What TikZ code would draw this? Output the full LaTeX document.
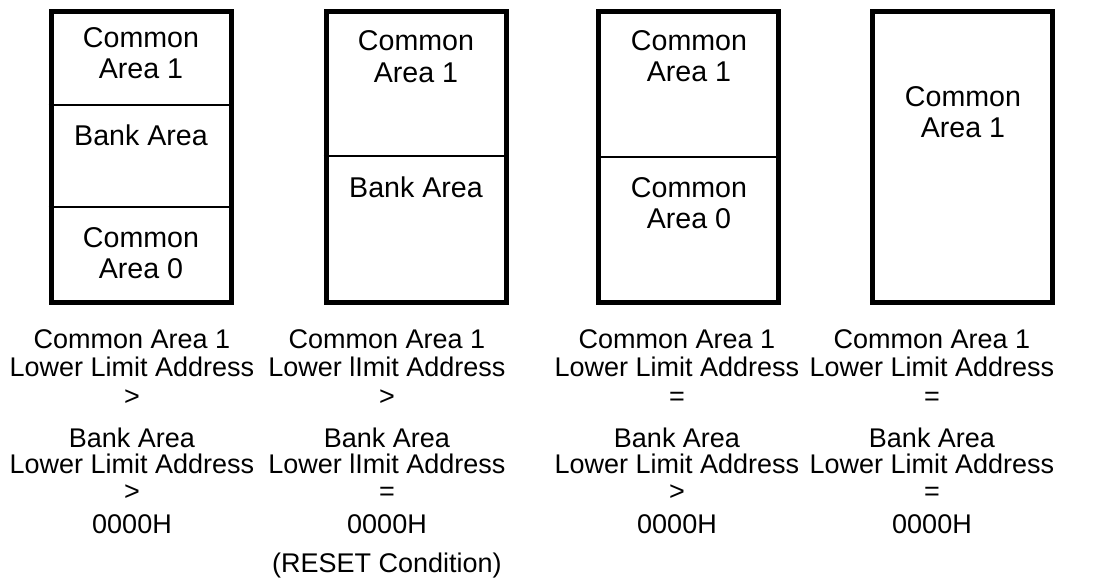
\documentclass[tikz,border=0pt]{standalone}
\usepackage{fontspec}
\setmainfont{Liberation Sans}
\tikzset{
  membox/.style={draw,line width=2.5pt,minimum width=90pt,minimum height=145.75pt,inner sep=0pt},
  divider/.style={line width=0.6pt},
  lbl/.style={anchor=base,inner sep=0pt,font=\fontsize{13.5}{15.5}\selectfont},
  arealbl/.style={lbl,font=\fontsize{14.3}{16}\selectfont},
}
\begin{document}
\begin{tikzpicture}[x=0.5pt,y=-0.5pt]
  \useasboundingbox (0,0) rectangle (1104,579);

  % memory maps
  \node[membox] (map1) at (141,156.75) {};
  \node[membox] (map2) at (416,156.75) {};
  \node[membox] (map3) at (688.5,156.75) {};
  \node[membox] (map4) at (962.5,156.75) {};

  \draw[divider] (map1.west |- 0,105) -- (map1.east |- 0,105);
  \draw[divider] (map1.west |- 0,207) -- (map1.east |- 0,207);
  \draw[divider] (map2.west |- 0,156) -- (map2.east |- 0,156);
  \draw[divider] (map3.west |- 0,157) -- (map3.east |- 0,157);

  % area names
  \node[arealbl] (m1a) at (141,47) {Common};
  \node[arealbl] (m1b) at (141,78) {Area 1};
  \node[arealbl] (m1c) at (141,145) {Bank Area};
  \node[arealbl] (m1d) at (141,247) {Common};
  \node[arealbl] (m1e) at (141,278) {Area 0};

  \node[arealbl] (m2a) at (416,50) {Common};
  \node[arealbl] (m2b) at (416,82) {Area 1};
  \node[arealbl] (m2c) at (416,197) {Bank Area};

  \node[arealbl] (m3a) at (689,50) {Common};
  \node[arealbl] (m3b) at (689,81) {Area 1};
  \node[arealbl] (m3c) at (689,197) {Common};
  \node[arealbl] (m3d) at (689,228) {Area 0};

  \node[arealbl] (m4a) at (963,106) {Common};
  \node[arealbl] (m4b) at (963,137) {Area 1};

  % conditions
  \foreach \cx/\relA/\relB/\lw [count=\i] in {132/>/>/Limit, 387/>/=/lImit, 677/=/>/Limit, 932/=/=/Limit} {
    \node[lbl] (ca\i) at (\cx,348) {Common Area 1};
    \node[lbl] (cal\i) at (\cx,376) {Lower \lw\ Address};
    \node[lbl] (ra\i) at (\cx,405) {\relA};
    \node[lbl] (ba\i) at (\cx,447) {Bank Area};
    \node[lbl] (bal\i) at (\cx,473) {Lower \lw\ Address};
    \node[lbl] (rb\i) at (\cx,500) {\relB};
    \node[lbl] (zero\i) at (\cx,533) {0000H};
  }
  \node[lbl] (reset) at (387,572) {(RESET Condition)};
\end{tikzpicture}
\end{document}
